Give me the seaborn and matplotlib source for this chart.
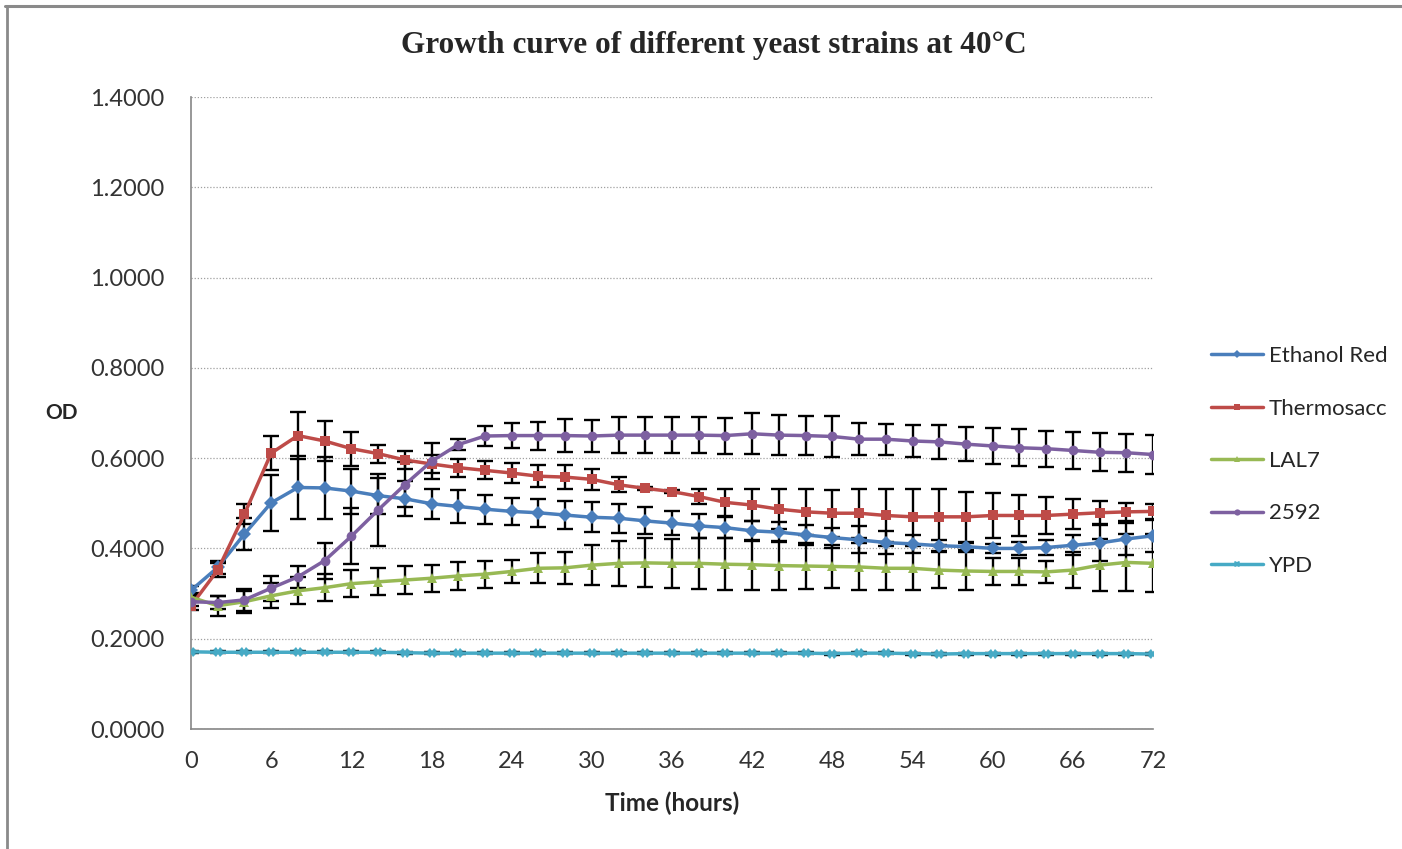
import numpy as np
import pandas as pd
import seaborn as sns
import matplotlib.pyplot as plt
from matplotlib.lines import Line2D
from matplotlib.ticker import FormatStrFormatter

# data (OD every 2 h)
hours = list(range(0, 73, 2))
strains = ['Ethanol Red', 'Thermosacc', 'LAL7', '2592', 'YPD']

ethanol_red = [0.307, 0.358, 0.432, 0.501, 0.535, 0.534, 0.527, 0.517, 0.510, 0.499,
               0.493, 0.487, 0.482, 0.479, 0.474, 0.469, 0.467, 0.461, 0.456, 0.450,
               0.446, 0.439, 0.436, 0.430, 0.424, 0.419, 0.413, 0.410, 0.406, 0.404,
               0.400, 0.400, 0.402, 0.407, 0.412, 0.421, 0.428]
ethanol_red_err = [0.010, 0.015, 0.035, 0.062, 0.070, 0.068, 0.050, 0.040, 0.039, 0.033,
                   0.037, 0.032, 0.030, 0.031, 0.031, 0.033, 0.032, 0.030, 0.026, 0.026,
                   0.024, 0.022, 0.022, 0.022, 0.022, 0.030, 0.025, 0.020, 0.012, 0.008,
                   0.010, 0.015, 0.016, 0.022, 0.040, 0.035, 0.035]

thermosacc = [0.273, 0.352, 0.476, 0.611, 0.650, 0.638, 0.621, 0.610, 0.596, 0.587,
              0.579, 0.573, 0.567, 0.560, 0.558, 0.553, 0.541, 0.533, 0.526, 0.515,
              0.502, 0.496, 0.487, 0.481, 0.478, 0.478, 0.473, 0.470, 0.470, 0.470,
              0.473, 0.473, 0.473, 0.476, 0.479, 0.481, 0.482]
thermosacc_err = [0.010, 0.015, 0.022, 0.037, 0.052, 0.045, 0.038, 0.020, 0.020, 0.020,
                  0.020, 0.020, 0.022, 0.025, 0.027, 0.024, 0.017, 0.004, 0.004, 0.017,
                  0.030, 0.036, 0.045, 0.051, 0.052, 0.054, 0.059, 0.062, 0.062, 0.055,
                  0.050, 0.046, 0.040, 0.033, 0.025, 0.020, 0.017]

lal7 = [0.292, 0.273, 0.282, 0.295, 0.306, 0.313, 0.322, 0.326, 0.330, 0.334,
        0.339, 0.343, 0.349, 0.356, 0.357, 0.363, 0.367, 0.368, 0.367, 0.367,
        0.365, 0.364, 0.362, 0.361, 0.360, 0.359, 0.356, 0.356, 0.352, 0.350,
        0.349, 0.349, 0.348, 0.352, 0.363, 0.369, 0.367]
lal7_err = [0.010, 0.022, 0.024, 0.028, 0.030, 0.030, 0.030, 0.030, 0.031, 0.030,
            0.030, 0.030, 0.026, 0.033, 0.036, 0.045, 0.050, 0.054, 0.054, 0.057,
            0.057, 0.055, 0.055, 0.050, 0.048, 0.052, 0.049, 0.049, 0.039, 0.043,
            0.030, 0.030, 0.025, 0.040, 0.057, 0.063, 0.064]

s2592 = [0.282, 0.280, 0.286, 0.312, 0.337, 0.373, 0.427, 0.485, 0.541, 0.593,
         0.630, 0.649, 0.650, 0.650, 0.650, 0.649, 0.651, 0.651, 0.651, 0.651,
         0.650, 0.654, 0.651, 0.650, 0.648, 0.642, 0.642, 0.638, 0.636, 0.631,
         0.627, 0.623, 0.621, 0.617, 0.613, 0.612, 0.608]
s2592_err = [0.010, 0.015, 0.024, 0.028, 0.024, 0.040, 0.062, 0.080, 0.050, 0.040,
             0.012, 0.022, 0.027, 0.031, 0.036, 0.036, 0.040, 0.040, 0.040, 0.040,
             0.040, 0.045, 0.044, 0.044, 0.045, 0.036, 0.034, 0.036, 0.038, 0.037,
             0.040, 0.041, 0.040, 0.042, 0.042, 0.042, 0.043]

ypd = [0.171, 0.170, 0.170, 0.170, 0.170, 0.170, 0.170, 0.170, 0.169, 0.168,
       0.168, 0.168, 0.168, 0.168, 0.168, 0.168, 0.168, 0.168, 0.168, 0.168,
       0.168, 0.168, 0.168, 0.168, 0.167, 0.168, 0.168, 0.167, 0.166, 0.167,
       0.167, 0.167, 0.167, 0.167, 0.167, 0.167, 0.166]
ypd_err = [0.002] * len(hours)

values = [ethanol_red, thermosacc, lal7, s2592, ypd]
errors = [ethanol_red_err, thermosacc_err, lal7_err, s2592_err, ypd_err]

line_colors = {'Ethanol Red': '#4A7EBB', 'Thermosacc': '#BE4B48', 'LAL7': '#98B954',
               '2592': '#7D60A0', 'YPD': '#46AAC5'}
markers = {'Ethanol Red': 'D', 'Thermosacc': 's', 'LAL7': '^', '2592': 'o', 'YPD': 'X'}
msizes = {'Ethanol Red': 6.5, 'Thermosacc': 8, 'LAL7': 7.5, '2592': 7.5, 'YPD': 7.5}

df = pd.DataFrame({
    'Time': hours * len(strains),
    'OD': sum(values, []),
    'Strain': sum([[s] * len(hours) for s in strains], []),
})

sns.set_style("white")
plt.rcParams['font.family'] = ['Lato', 'DejaVu Sans']

fig = plt.figure(figsize=(14.02, 8.49), dpi=100)
ax = fig.add_axes([191 / 1402, 1 - 729 / 849, (1153 - 191) / 1402, (729 - 97) / 849])

# error bars behind the lines
for s, v, e in zip(strains, values, errors):
    ax.errorbar(hours, v, yerr=e, fmt='none', ecolor='black', elinewidth=1.7,
                capsize=6, capthick=1.7, zorder=1)

sns.lineplot(data=df, x='Time', y='OD', hue='Strain', style='Strain',
             palette=line_colors, markers=markers, dashes=False,
             linewidth=2.5, markersize=7, markeredgewidth=0, ax=ax, zorder=3,
             errorbar=None, legend=True)

for line, s in zip(ax.get_lines()[-len(strains):], strains):
    line.set_markersize(msizes[s])

ax.set_xlim(0, 72)
ax.set_ylim(0, 1.4)
ax.set_xticks(range(0, 73, 6))
ax.set_yticks(np.arange(0, 1.41, 0.2))
ax.yaxis.set_major_formatter(FormatStrFormatter('%.4f'))
ax.tick_params(axis='both', labelsize=17, colors='#333333', length=5, width=1,
               direction='out', color='#868686')
ax.tick_params(axis='y', pad=14)
ax.tick_params(axis='x', pad=11)
ax.yaxis.grid(True, linestyle=(0, (1, 1.5)), color='#a0a0a0', linewidth=0.9)
for side in ['top', 'right']:
    ax.spines[side].set_visible(False)
for side in ['left', 'bottom']:
    ax.spines[side].set_color('#868686')
    ax.spines[side].set_linewidth(1.2)
ax.set_xlabel('')
ax.set_ylabel('')

fig.text(62 / 1402, 1 - 413 / 849, 'OD', fontsize=15, fontweight='bold',
         ha='center', va='center')
fig.text(672 / 1402, 1 - 803 / 849, 'Time (hours)', fontsize=17.5, fontweight='bold',
         ha='center', va='center')
fig.text(714 / 1402, 1 - 45 / 849, 'Growth curve of different yeast strains at 40\u00b0C',
         fontsize=22.5, fontweight='bold', family='Liberation Serif',
         ha='center', va='center')

handles, labels = ax.get_legend_handles_labels()
leg = ax.legend(handles, labels, loc='center left', bbox_to_anchor=(1191 / 1402, 1 - 461 / 849),
                bbox_transform=fig.transFigure, frameon=False, fontsize=16,
                handlelength=2.35, handletextpad=0.25, labelspacing=1.46)
for h in leg.legend_handles:
    h.set_markersize(4.5)
    h.set_linewidth(2.5)

# chart-area border: only top and left edges show in the reference
fig.add_artist(Line2D([5 / 1402, 1], [1 - 5.5 / 849, 1 - 5.5 / 849], transform=fig.transFigure,
                      color='#8a8a8a', linewidth=2.2))
fig.add_artist(Line2D([6.5 / 1402, 6.5 / 1402], [0, 1 - 5.5 / 849], transform=fig.transFigure,
                      color='#8a8a8a', linewidth=2.0))

fig.savefig('out.png', dpi=100)
plt.close()
